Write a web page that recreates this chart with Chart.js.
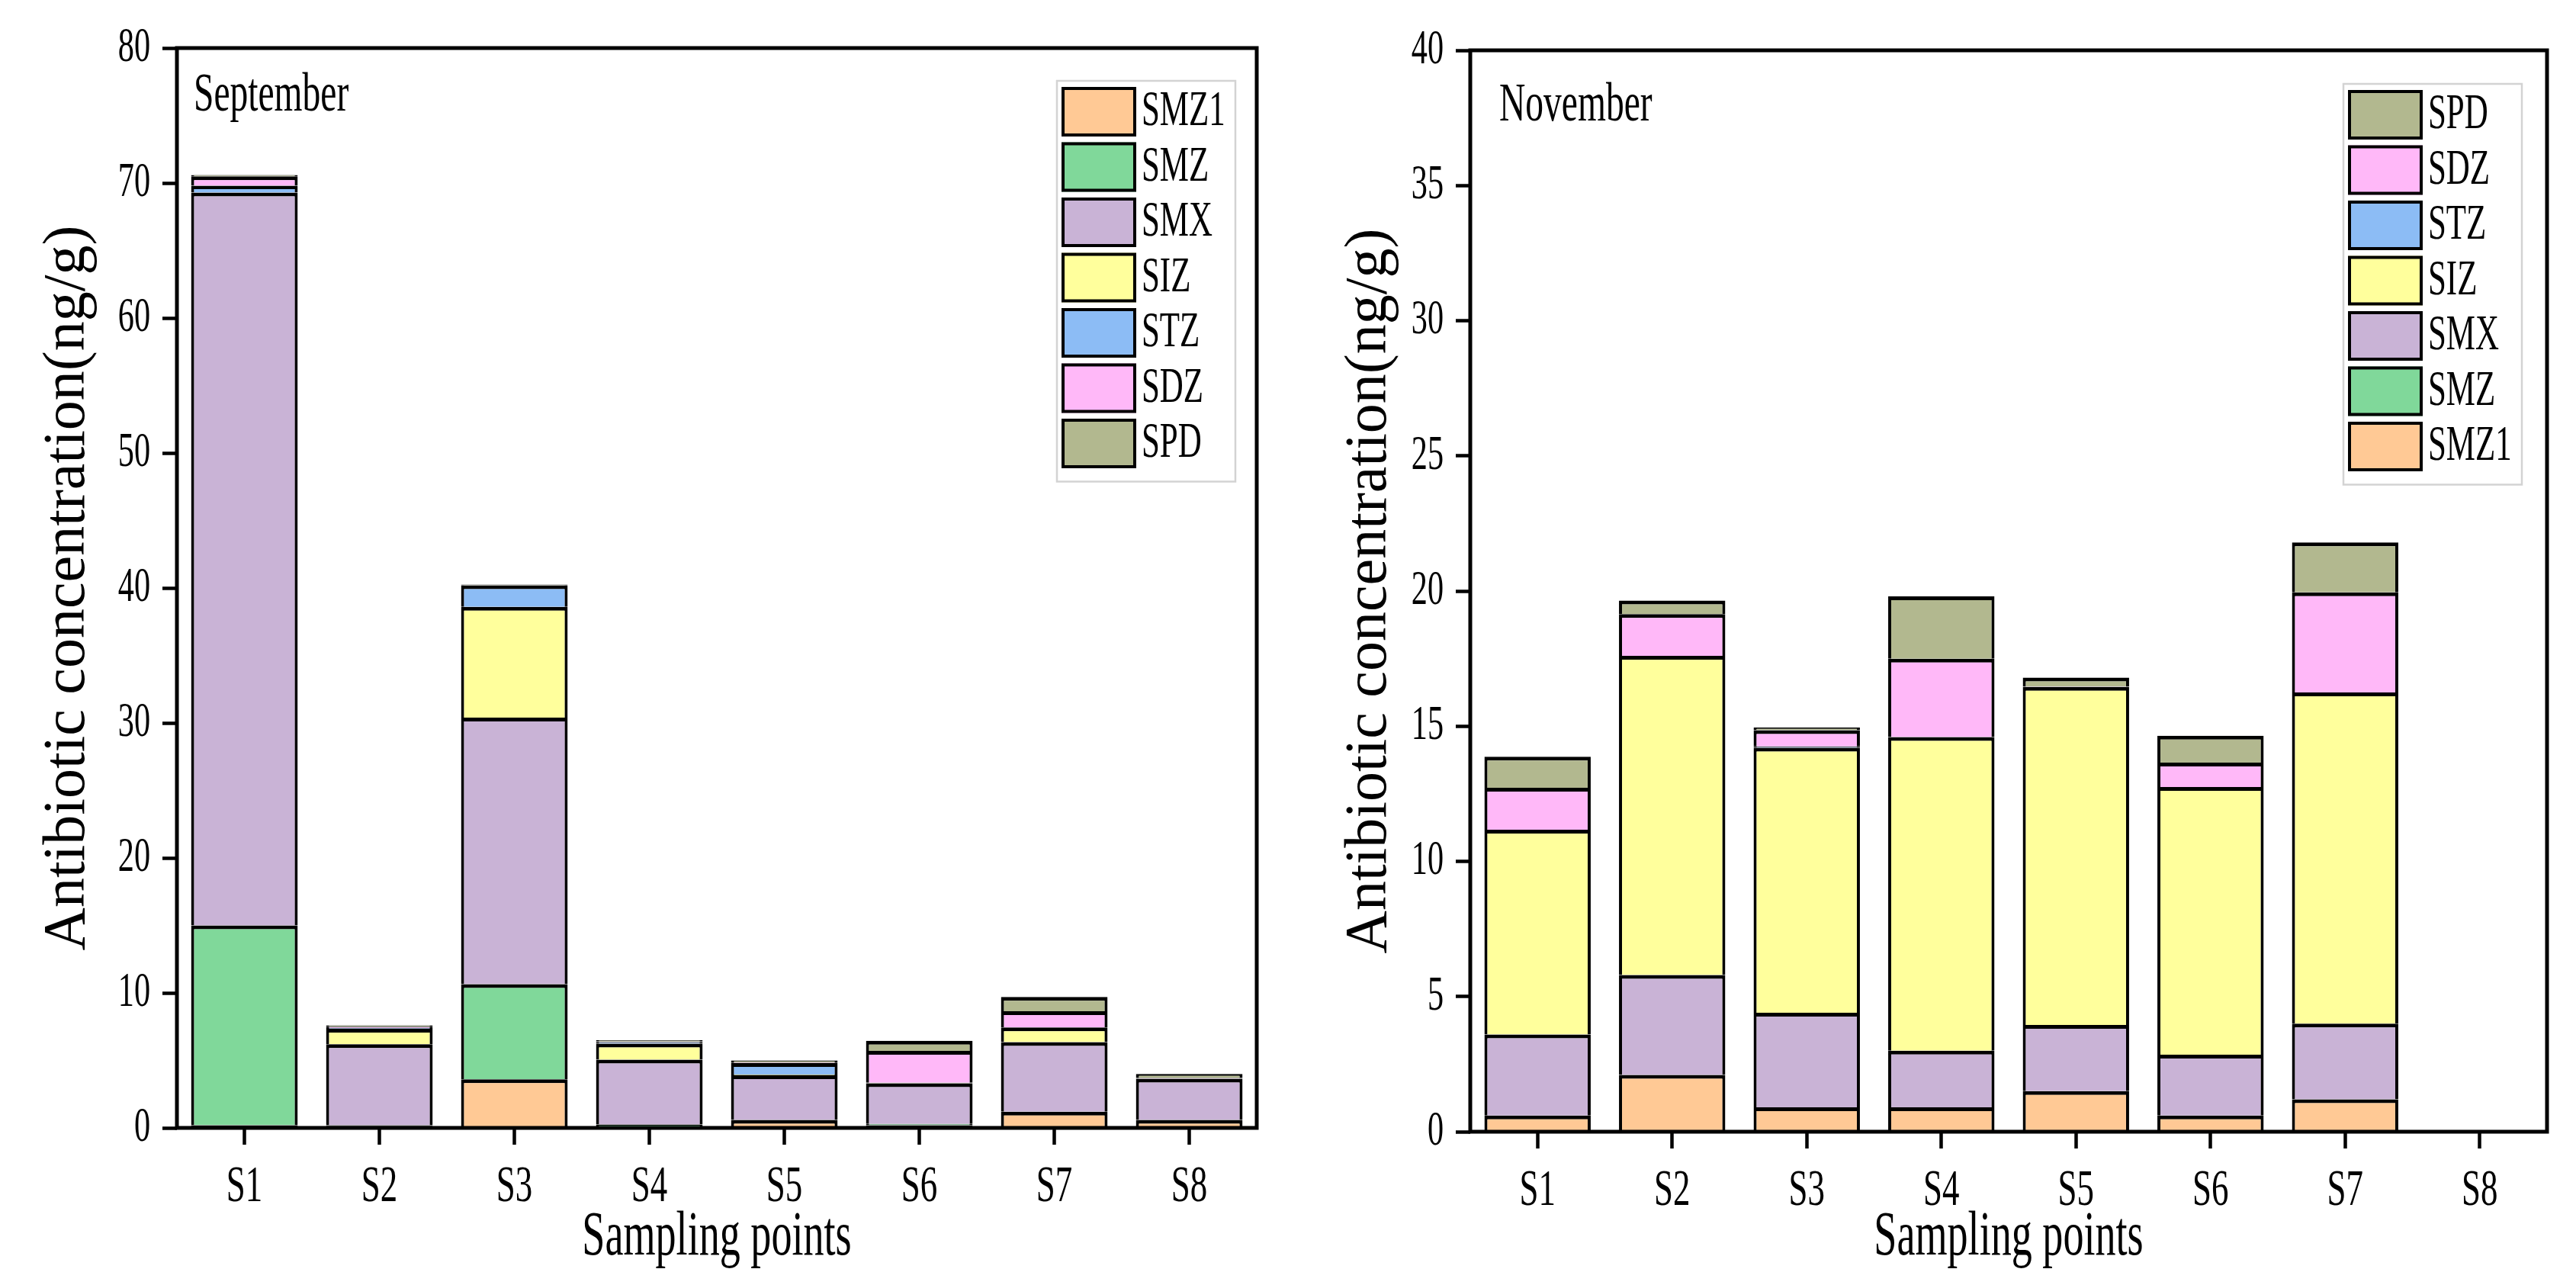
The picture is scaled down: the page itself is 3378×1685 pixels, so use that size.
<!DOCTYPE html>
<html>
<head>
<meta charset="utf-8">
<script src="https://cdn.jsdelivr.net/npm/chart.js@4.4.1/dist/chart.umd.min.js"></script>
<style>
html, body { margin: 0; padding: 0; background: #fff; }
#wrap { position: relative; width: 3378px; height: 1685px; overflow: hidden; }
canvas { position: absolute; top: 0; }
#sepChart { left: 0; }
#novChart { left: 1689px; }
</style>
</head>
<body>
<div id="wrap">
    <canvas id="sepChart" width="1689" height="1685"></canvas>
    <canvas id="novChart" width="1689" height="1685"></canvas>
</div>
<script>
// sampling points and antibiotics (stack order, bottom to top)
const sites = ['S1', 'S2', 'S3', 'S4', 'S5', 'S6', 'S7', 'S8'];
const drugs = ['SMZ1', 'SMZ', 'SMX', 'SIZ', 'STZ', 'SDZ', 'SPD'];
const drugColors = ['#ffc995', '#80d89a', '#c9b3d6', '#ffff9c', '#8cbcf5', '#ffb8f8', '#b2b88f'];

// September, ng/g
const sepSMZ1 = [0.2, 0.15, 3.6, 0.1, 0.6, 0.2, 1.2, 0.6];
const sepSMZ  = [14.8, 0.05, 7.05, 0.15, 0, 0.1, 0, 0];
const sepSMX  = [54.3, 6.0, 19.75, 4.8, 3.3, 3.0, 5.15, 3.05];
const sepSIZ  = [0, 1.15, 8.2, 1.2, 0.05, 0.05, 1.1, 0];
const sepSTZ  = [0.5, 0.05, 1.6, 0.1, 0.85, 0, 0, 0];
const sepSDZ  = [0.7, 0.1, 0, 0.05, 0.05, 2.35, 1.2, 0.05];
const sepSPD  = [0.1, 0.1, 0.05, 0.1, 0.15, 0.75, 1.05, 0.3];

// November, ng/g
const novSMZ1 = [0.6, 2.1, 0.9, 0.9, 1.5, 0.6, 1.2, 0];
const novSMZ  = [0, 0, 0, 0, 0, 0, 0, 0];
const novSMX  = [3.0, 3.7, 3.5, 2.1, 2.45, 2.25, 2.8, 0];
const novSIZ  = [7.57, 11.8, 9.8, 11.6, 12.5, 9.9, 12.25, 0];
const novSTZ  = [0, 0, 0.05, 0, 0, 0, 0, 0];
const novSDZ  = [1.55, 1.55, 0.6, 2.9, 0.02, 0.9, 3.7, 0];
const novSPD  = [1.15, 0.5, 0.1, 2.3, 0.33, 1.0, 1.85, 0];

const sepTicks = { max: 80, step: 10 };
const novTicks = { max: 40, step: 5 };

const serif = "'Liberation Serif', 'Times New Roman', serif";

// horizontal text in the original is drawn narrow, squeeze it
function narrowText(ctx, k) {
    const orig = ctx.fillText.bind(ctx);
    ctx.fillText = function (text, x, y, maxWidth) {
        const t = ctx.getTransform();
        if (Math.abs(t.b) > 1e-6) {
            return maxWidth === undefined ? orig(text, x, y) : orig(text, x, y, maxWidth);
        }
        ctx.save();
        ctx.translate(x, y);
        ctx.scale(k, 1);
        orig(text, 0, 0);
        ctx.restore();
    };
}

const frame = {
    id: 'frame',
    afterDatasetsDraw(chart) {
        const a = chart.chartArea, ctx = chart.ctx;
        ctx.save();
        ctx.strokeStyle = '#000';
        ctx.lineWidth = 5;
        ctx.strokeRect(a.left, a.top, a.right - a.left, a.bottom - a.top);
        ctx.restore();
    }
};

const boxLegend = {
    id: 'boxLegend',
    afterDraw(chart, args, o) {
        const ctx = chart.ctx, a = chart.chartArea;
        const items = chart.data.datasets.map(d => ({ label: d.label, color: d.backgroundColor }));
        if (o.reverse) items.reverse();
        const w = 234, rowH = 72.5;
        const x0 = a.right - o.right - w, y0 = a.top + o.top;
        const h = items.length * rowH + 18;
        ctx.save();
        ctx.fillStyle = '#fff';
        ctx.fillRect(x0, y0, w, h);
        ctx.strokeStyle = '#d3d3d3';
        ctx.lineWidth = 2.5;
        ctx.strokeRect(x0, y0, w, h);
        items.forEach((it, i) => {
            const sy = y0 + 8 + i * rowH;
            ctx.fillStyle = it.color;
            ctx.fillRect(x0 + 6, sy, 98, 65);
            ctx.strokeStyle = '#000';
            ctx.lineWidth = 4;
            ctx.strokeRect(x0 + 8, sy + 2, 94, 61);
            ctx.fillStyle = '#000';
            ctx.font = '65px ' + serif;
            ctx.textBaseline = 'middle';
            ctx.textAlign = 'left';
            ctx.fillText(it.label, x0 + 111, sy + 33);
        });
        ctx.restore();
    }
};

const monthLabel = {
    id: 'monthLabel',
    afterDraw(chart, args, o) {
        const ctx = chart.ctx, a = chart.chartArea;
        ctx.save();
        ctx.fillStyle = '#000';
        ctx.font = '72px ' + serif;
        ctx.textBaseline = 'alphabetic';
        ctx.textAlign = 'left';
        ctx.fillText(o.text, a.left + o.dx, o.baseline);
        ctx.restore();
    }
};

function makeChart(id, month, series, ticks, lay) {
    const canvas = document.getElementById(id);
    narrowText(canvas.getContext('2d'), 0.66);
    const datasets = drugs.map((name, i) => ({
        label: name,
        data: series[i],
        backgroundColor: drugColors[i],
        borderColor: '#000',
        borderWidth: { top: 5, left: 4, right: 4, bottom: 0 },
        borderSkipped: 'start',
        barPercentage: 0.79,
        categoryPercentage: 1.0
    }));
    return new Chart(canvas, {
        type: 'bar',
        data: { labels: sites, datasets: datasets },
        plugins: [frame, boxLegend, monthLabel],
        options: {
            responsive: false,
            devicePixelRatio: 1,
            animation: false,
            events: [],
            layout: { padding: { top: lay.top, right: lay.right, left: 0, bottom: 0 } },
            plugins: {
                legend: { display: false },
                tooltip: { enabled: false },
                boxLegend: { reverse: lay.reverse, right: lay.legRight, top: lay.legTop },
                monthLabel: { text: month, dx: lay.labelDx, baseline: lay.labelBase }
            },
            scales: {
                x: {
                    stacked: true,
                    afterFit: s => { s.height = lay.xHeight; },
                    border: { display: false },
                    grid: { display: true, drawOnChartArea: false, offset: false, tickLength: 22, tickWidth: 4.5, tickColor: '#000' },
                    ticks: { color: '#000', padding: 15, font: { family: serif, size: 68 } },
                    title: { display: true, text: 'Sampling points', color: '#000', padding: { top: 0, bottom: 12 }, font: { family: serif, size: 82 } }
                },
                y: {
                    stacked: true,
                    min: 0,
                    max: ticks.max,
                    afterFit: s => { s.width = lay.yWidth; },
                    border: { display: false },
                    grid: { display: true, drawOnChartArea: false, tickLength: 19, tickWidth: 4.5, tickColor: '#000' },
                    ticks: { stepSize: ticks.step, color: '#000', padding: 16, font: { family: serif, size: 64 } },
                    title: { display: true, text: 'Antibiotic concentration(ng/g)', color: '#000', padding: { top: lay.titlePad, bottom: 0 }, font: { family: serif, size: 78 } }
                }
            }
        }
    });
}

makeChart('sepChart', 'September',
    [sepSMZ1, sepSMZ, sepSMX, sepSIZ, sepSTZ, sepSDZ, sepSPD], sepTicks,
    { top: 63, right: 41, xHeight: 206, yWidth: 232, titlePad: 43, reverse: false, legRight: 28, legTop: 43, labelDx: 22, labelBase: 145 });

makeChart('novChart', 'November',
    [novSMZ1, novSMZ, novSMX, novSIZ, novSTZ, novSDZ, novSPD], novTicks,
    { top: 66, right: 38, xHeight: 201, yWidth: 239, titlePad: 61, reverse: true, legRight: 33, legTop: 44, labelDx: 38, labelBase: 158 });
</script>
</body>
</html>
